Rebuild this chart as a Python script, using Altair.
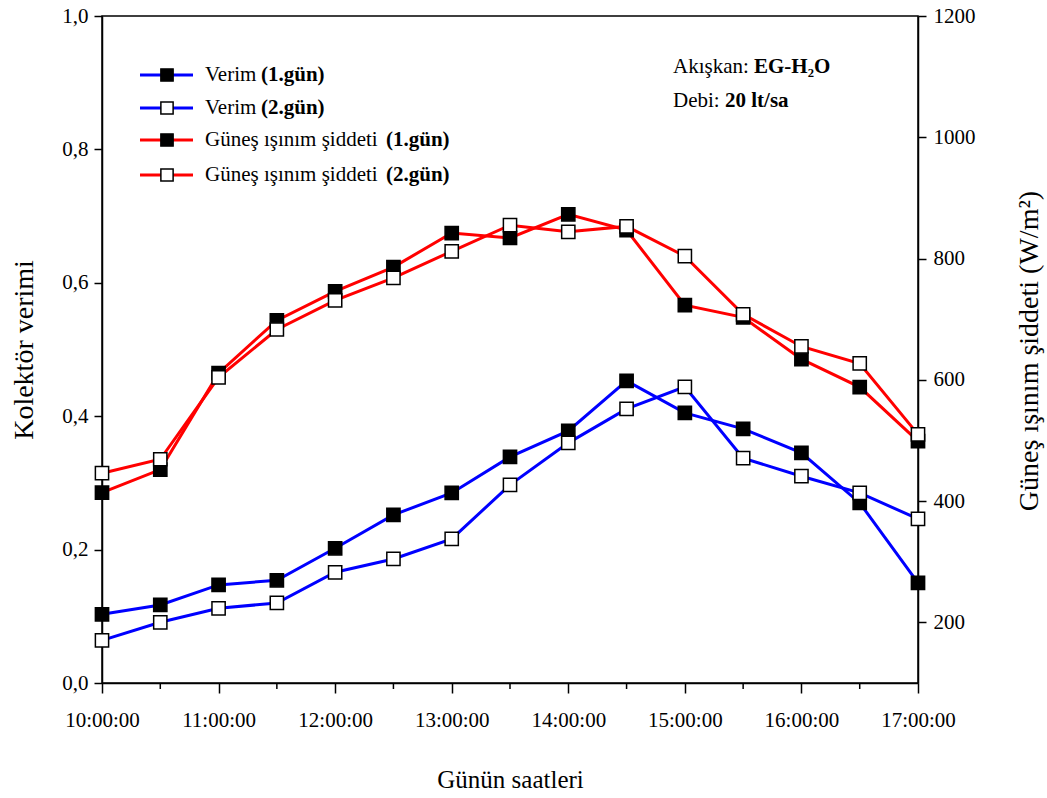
import altair as alt
import pandas as pd

# ---- data ----
hours = [10.0, 10.5, 11.0, 11.5, 12.0, 12.5, 13.0, 13.5, 14.0, 14.5, 15.0, 15.5, 16.0, 16.5, 17.0]
verim_1 = [0.103, 0.117, 0.147, 0.154, 0.202, 0.252, 0.285, 0.339, 0.378, 0.453, 0.405, 0.381, 0.345, 0.270, 0.150]
verim_2 = [0.064, 0.091, 0.112, 0.120, 0.166, 0.186, 0.216, 0.297, 0.360, 0.411, 0.444, 0.337, 0.310, 0.285, 0.246]
isinim_1 = [414, 452, 611, 698, 746, 786, 842, 834, 873, 847, 723, 703, 634, 588, 499]
isinim_2 = [446, 469, 604, 683, 731, 768, 812, 855, 844, 853, 804, 708, 655, 627, 510]

major_hours = [10, 11, 12, 13, 14, 15, 16, 17]
minor_hours = [10.5, 11.5, 12.5, 13.5, 14.5, 15.5, 16.5]
left_ticks = [0.0, 0.2, 0.4, 0.6, 0.8, 1.0]
right_ticks = [200, 400, 600, 800, 1000, 1200]

FONT = "Liberation Serif"
W, H = 816, 667
BLUE = "#0000ff"
RED = "#ff0000"

xscale = alt.Scale(domain=[10, 17], nice=False, zero=False)
xaxis = alt.Axis(
    values=major_hours, labelExpr="datum.value + ':00:00'", title="Günün saatleri",
    tickSize=10, labelPadding=16, labelFontSize=21, titleFontSize=25,
    titleX=408, titleY=96, titleAlign="center", titleBaseline="middle",
    grid=False, labelFlush=False,
)
left_axis = alt.Axis(
    values=left_ticks, labelExpr="replace(format(datum.value, '.1f'), '.', ',')",
    title="Kolektör verimi", orient="left", tickSize=8, labelPadding=6,
    labelFontSize=21, titleFontSize=28, titleAngle=270,
    titleX=-78, titleY=H / 2, titleAlign="center", titleBaseline="middle", grid=False,
)
right_axis = alt.Axis(
    values=right_ticks, format="d", title="Güneş ışınım şiddeti (W/m²)", orient="right",
    tickSize=8, labelPadding=7, labelFontSize=21, titleFontSize=28, titleAngle=270,
    titleX=111, titleY=H / 2 + 1, titleAlign="center", titleBaseline="middle", grid=False,
)


def series(values, color, filled, yscale, yaxis):
    df = pd.DataFrame({"t": hours, "v": values})
    base = alt.Chart(df).encode(
        x=alt.X("t:Q", scale=xscale, axis=xaxis),
        y=alt.Y("v:Q", scale=yscale, axis=yaxis),
    )
    line = base.mark_line(color=color, strokeWidth=3)
    pts = base.mark_square(size=175, fill="black" if filled else "white",
                           stroke="black", strokeWidth=1.5, opacity=1)
    return line + pts


lscale = alt.Scale(domain=[0, 1], nice=False, zero=False)
rscale = alt.Scale(domain=[100, 1200], nice=False, zero=False)

blue = alt.layer(series(verim_1, BLUE, True, lscale, left_axis),
                 series(verim_2, BLUE, False, lscale, left_axis))
red = alt.layer(series(isinim_1, RED, True, rscale, right_axis),
                series(isinim_2, RED, False, rscale, right_axis))

minor = alt.Chart(pd.DataFrame({"t": minor_hours})).mark_rule(
    color="black", strokeWidth=1.5
).encode(x=alt.X("t:Q", scale=xscale, axis=xaxis), y=alt.value(H), y2=alt.value(H + 6))

one = pd.DataFrame({"a": [0]})

# ---- manual legend ----
legend_rows = [
    ("Verim", "(1.gün)", BLUE, "black", 59, 159),
    ("Verim", "(2.gün)", BLUE, "white", 92, 159),
    ("Güneş ışınım şiddeti", "(1.gün)", RED, "black", 124, 284),
    ("Güneş ışınım şiddeti", "(2.gün)", RED, "white", 159, 284),
]
legend_layers = []
for label, bold, color, fill, yy, bx in legend_rows:
    legend_layers.append(alt.Chart(one).mark_rule(color=color, strokeWidth=3).encode(
        x=alt.value(38), x2=alt.value(91), y=alt.value(yy)))
    legend_layers.append(alt.Chart(one).mark_square(
        size=150, fill=fill, stroke="black", strokeWidth=1.5, opacity=1
    ).encode(x=alt.value(65), y=alt.value(yy)))
    legend_layers.append(alt.Chart(one).mark_text(
        text=label, font=FONT, fontSize=21, align="left", baseline="middle", color="black"
    ).encode(x=alt.value(103), y=alt.value(yy)))
    legend_layers.append(alt.Chart(one).mark_text(
        text=bold, font=FONT, fontSize=21, fontWeight="bold", align="left",
        baseline="middle", color="black"
    ).encode(x=alt.value(bx), y=alt.value(yy)))

# ---- annotation ----
notes = [
    ("Akışkan:", "EG-H₂O", 51, 571, 652),
    ("Debi:", "20 lt/sa", 85, 571, 623),
]
note_layers = []
for lab, val, yy, x1, x2 in notes:
    note_layers.append(alt.Chart(one).mark_text(
        text=lab, font=FONT, fontSize=21, align="left", baseline="middle", color="black"
    ).encode(x=alt.value(x1), y=alt.value(yy)))
    note_layers.append(alt.Chart(one).mark_text(
        text=val, font=FONT, fontSize=21, fontWeight="bold", align="left",
        baseline="middle", color="black"
    ).encode(x=alt.value(x2), y=alt.value(yy)))

chart = alt.layer(blue, red, minor, *legend_layers, *note_layers).resolve_scale(
    y="independent"
).properties(
    width=W, height=H,
    padding={"left": 102, "top": 16, "right": 129, "bottom": 115},
    autosize=alt.AutoSizeParams(type="none"),
    background="white",
).configure_view(
    stroke="black", strokeWidth=1.5
).configure_axis(
    labelFont=FONT, titleFont=FONT, labelColor="black", titleColor="black",
    titleFontWeight="normal", domainColor="black", tickColor="black",
    domainWidth=1.5, tickWidth=1.5,
)

chart.save("out.html", embed_options={"renderer": "svg", "actions": False})
